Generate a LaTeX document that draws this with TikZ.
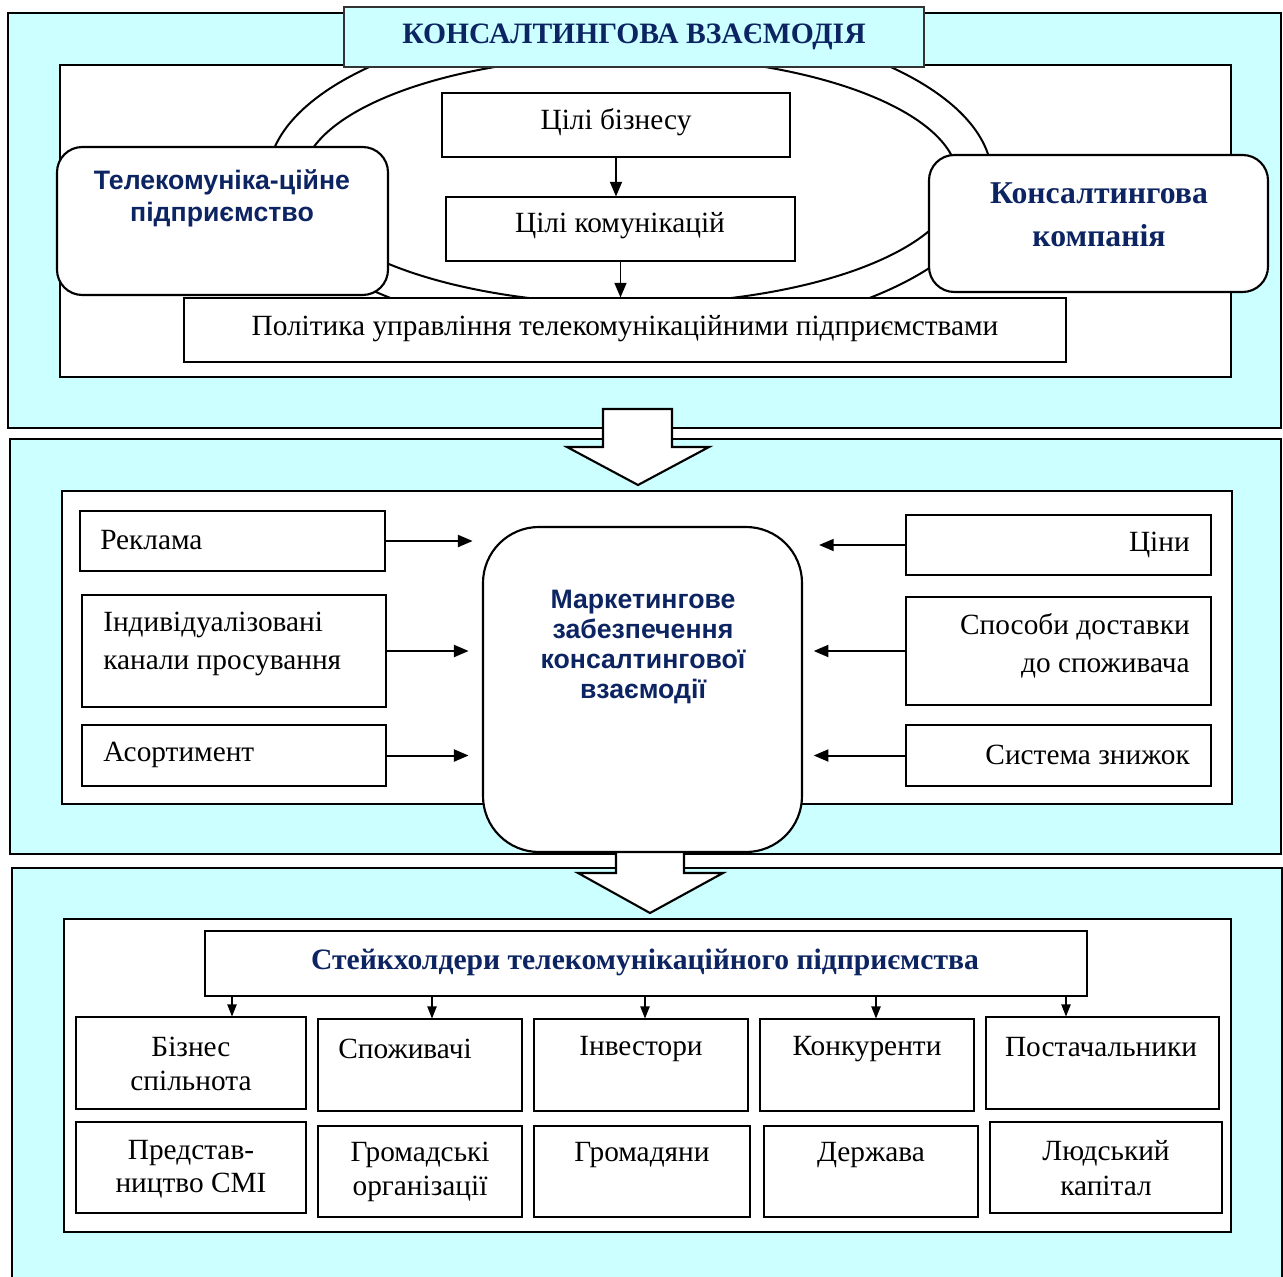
\documentclass[tikz,border=0pt]{standalone}
\usepackage{fontspec}
\setmainfont{Liberation Serif}
\newfontfamily\sansb{Liberation Sans}
\usetikzlibrary{arrows.meta,fit}
\definecolor{cyanbg}{RGB}{204,255,255}
\definecolor{navy}{RGB}{12,36,97}
\begin{document}
\begin{tikzpicture}[x=0.75pt,y=-0.75pt,
  panel/.style={draw=black, line width=2.2pt, fill=cyanbg, inner sep=0pt},
  innerrect/.style={draw=black, line width=1.8pt, fill=white, inner sep=0pt},
  box/.style={draw=black, line width=0.8pt, fill=white, inner sep=0pt},
  rbox/.style={draw=black, line width=1.6pt, fill=white, inner sep=0pt, rounded corners=19pt},
  titlebox/.style={draw=black!80, line width=0.8pt, fill=cyanbg, inner sep=0pt},
  txt/.style={font=\fontsize{22}{27}\selectfont, inner sep=0pt},
  bsans/.style={font=\sansb\bfseries\fontsize{20}{24}\selectfont, text=navy, inner sep=0pt, align=center},
  bserif/.style={font=\bfseries\fontsize{22.2}{27}\selectfont, text=navy, inner sep=0pt},
  arr/.style={-{Triangle[length=11pt,width=9pt]}, line width=1.5pt},
  sarr/.style={-{Triangle[length=9pt,width=7pt]}, line width=0.8pt},
  blockarrow/.style={draw=black, line width=1.6pt, fill=white, line join=miter},
  oval/.style={line width=1.5pt}
]
\clip (0,0) rectangle (1283,1277);
% ---------- panels ----------
\node[panel, fit={(8,13)(1281,428)}] (p1) {};
\node[panel, fit={(10,439)(1281,854)}] (p2) {};
\node[panel, fit={(12,868)(1282,1300)}] (p3) {};
% ---------- block arrows ----------
\draw[blockarrow] (603,409) -- (672,409) -- (672,447) -- (709,447) -- (638,485) -- (567,447) -- (603,447) -- cycle;
\draw[blockarrow] (616,851) -- (684,851) -- (684,873) -- (723,873) -- (650,913) -- (578,873) -- (616,873) -- cycle;
% ---------- panel 1 ----------
\node[innerrect, fit={(60,65)(1231,377)}] (i1) {};
\draw[oval] (630,178) ellipse [x radius=271.5pt, y radius=120pt];
\draw[oval] (630,180) ellipse [x radius=246pt, y radius=93pt];
\node[box, fit={(442,93)(790,157)}] (cb) {};
\node[txt] (tcb) at (616,122) {Цілі бізнесу};
\node[box, fit={(446,197)(795,261)}] (ck) {};
\node[txt] (tck) at (620,226) {Цілі комунікацій};
\node[box, fit={(184,298)(1066,362)}] (pol) {};
\node[txt] (tpol) at (625,329) {Політика управління телекомунікаційними підприємствами};
\node[rbox, fit={(57,147)(388,295)}] (tele) {};
\node[bsans, font=\sansb\bfseries\fontsize{20}{24}\selectfont] (ttele) at (222,198) {Телекомуніка-ційне\\підприємство};
\node[rbox, fit={(929,155)(1268,292)}] (kons) {};
\node[bserif, align=center, font=\bfseries\fontsize{23.8}{32}\selectfont] (tkons) at (1099,215) {Консалтингова\\компанія};
\node[titlebox, fit={(344,7)(924,67)}] (title) {};
\node[bserif] (ttitle) at (634,37) {КОНСАЛТИНГОВА ВЗАЄМОДІЯ};
\draw[arr, line width=1.3pt] (cb.south) -- (cb.south |- ck.north);
\draw[arr, line width=1.3pt] (ck.south) -- (ck.south |- pol.north);
% ---------- panel 2 ----------
\node[innerrect, fit={(62,491)(1232,804)}] (i2) {};
\node[rbox, rounded corners=42pt, fit={(483,527)(802,852)}] (mk) {};
\node[bsans, font=\sansb\bfseries\fontsize{20}{22.7}\selectfont] (tmk) at (643,647) {Маркетингове\\забезпечення\\консалтингової\\взаємодії};
\node[box, fit={(80,511)(385,571)}] (rek) {};
\node[txt, anchor=west] (trek) at (100,540) {Реклама};
\node[box, fit={(82,595)(386,707)}] (ind) {};
\node[txt, anchor=west, align=left, font=\fontsize{22}{29}\selectfont] (tind) at (103,644) {Індивідуалізовані\\канали просування};
\node[box, fit={(82,725)(386,786)}] (asor) {};
\node[txt, anchor=west] (tasor) at (103,755) {Асортимент};
\node[box, fit={(906,515)(1211,575)}] (cin) {};
\node[txt, anchor=east] (tcin) at (1190,545) {Ціни};
\node[box, fit={(906,597)(1211,705)}] (spos) {};
\node[txt, anchor=east, align=right, font=\fontsize{22}{29}\selectfont] (tspos) at (1190,646) {Способи доставки\\до споживача};
\node[box, fit={(906,725)(1211,786)}] (zn) {};
\node[txt, anchor=east] (tzn) at (1190,755) {Система знижок};
\draw[arr, shorten >=7pt] (rek.east) -- (rek.east -| mk.west);
\draw[arr, shorten >=10pt] (ind.east) -- (ind.east -| mk.west);
\draw[arr, shorten >=10pt] (asor.east) -- (asor.east -| mk.west);
\draw[arr, shorten >=12pt] (cin.west) -- (cin.west -| mk.east);
\draw[arr, shorten >=8pt] (spos.west) -- (spos.west -| mk.east);
\draw[arr, shorten >=8pt] (zn.west) -- (zn.west -| mk.east);
% ---------- panel 3 ----------
\node[innerrect, fit={(64,919)(1231,1232)}] (i3) {};
\node[box, line width=2.2pt, fit={(205,931)(1087,996)}] (hdr) {};
\node[bserif] (thdr) at (645,962) {Стейкхолдери телекомунікаційного підприємства};
\node[box, fit={(76,1017)(306,1109)}] (b1) {};
\node[box, fit={(318,1019)(522,1111)}] (b2) {};
\node[box, fit={(534,1019)(748,1111)}] (b3) {};
\node[box, fit={(760,1019)(974,1111)}] (b4) {};
\node[box, fit={(986,1017)(1219,1109)}] (b5) {};
\node[box, fit={(76,1122)(306,1213)}] (c1) {};
\node[box, fit={(318,1126)(522,1217)}] (c2) {};
\node[box, fit={(534,1126)(750,1217)}] (c3) {};
\node[box, fit={(764,1126)(978,1217)}] (c4) {};
\node[box, fit={(990,1122)(1222,1213)}] (c5) {};
\node[txt, align=center, font=\fontsize{22}{25.5}\selectfont] (tb1) at (191,1064) {Бізнес\\спільнота};
\node[txt] (tb2) at (405,1049) {Споживачі};
\node[txt] (tb3) at (641,1049) {Інвестори};
\node[txt] (tb4) at (867,1049) {Конкуренти};
\node[txt] (tb5) at (1101,1047) {Постачальники};
\node[txt, align=center, font=\fontsize{22}{25}\selectfont] (tc1) at (191,1169) {Представ-\\ництво СМІ};
\node[txt, align=center, font=\fontsize{22}{25}\selectfont] (tc2) at (420,1172) {Громадські\\організації};
\node[txt] (tc3) at (642,1155) {Громадяни};
\node[txt] (tc4) at (871,1155) {Держава};
\node[txt, align=center, font=\fontsize{22}{26}\selectfont] (tc5) at (1106,1168) {Людський\\капітал};
\coordinate (s1) at (232,996);
\coordinate (s2) at (432,996);
\coordinate (s3) at (645,996);
\coordinate (s4) at (876,996);
\coordinate (s5) at (1066,996);
\draw[sarr] (s1) -- (s1 |- b1.north);
\draw[sarr] (s2) -- (s2 |- b2.north);
\draw[sarr] (s3) -- (s3 |- b3.north);
\draw[sarr] (s4) -- (s4 |- b4.north);
\draw[sarr] (s5) -- (s5 |- b5.north);
\end{tikzpicture}
\end{document}
